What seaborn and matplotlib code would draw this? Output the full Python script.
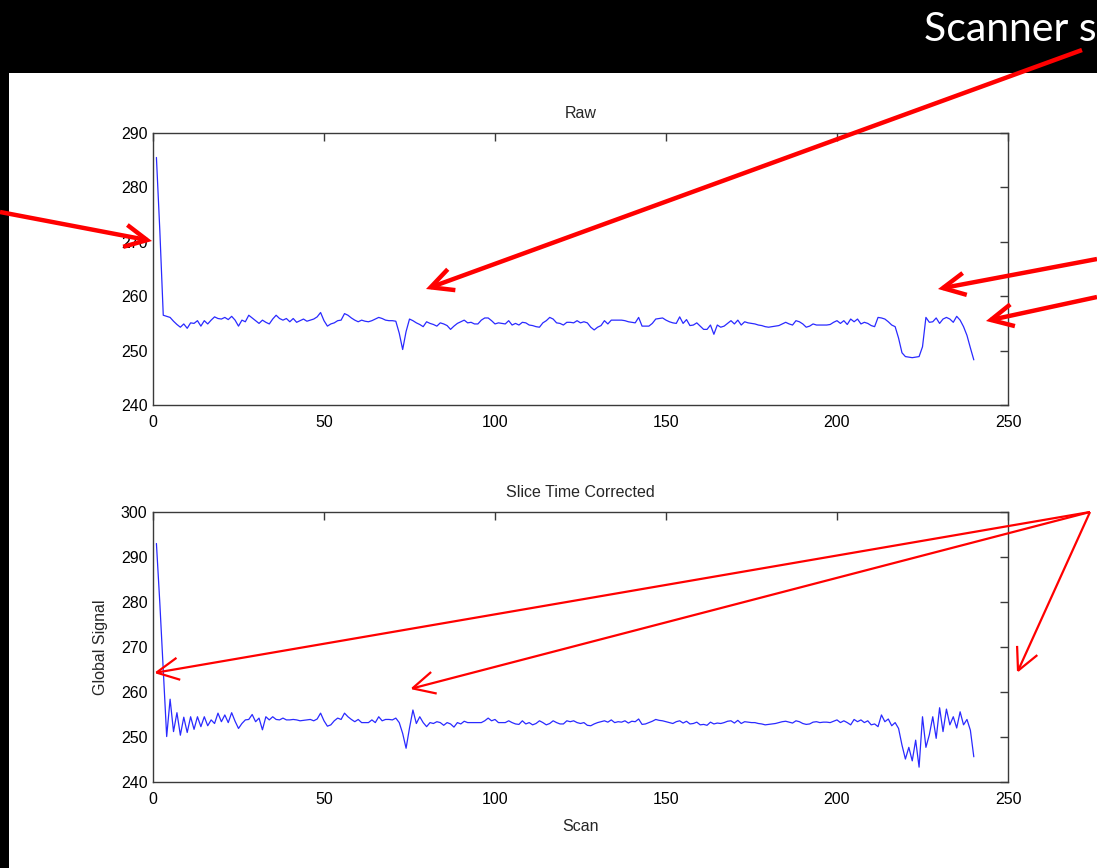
import matplotlib
matplotlib.use("Agg")
import matplotlib.pyplot as plt
import seaborn as sns
from matplotlib.patches import Rectangle, FancyArrowPatch

# global signal per scan
scans = list(range(1, 241))

raw = [
    285.5, 272.0, 256.5, 256.3, 256.1, 255.4, 254.8, 254.3, 254.9, 254.1,
    255.1, 255.0, 255.5, 254.5, 255.5, 254.9, 255.6, 256.2, 255.9, 255.8,
    256.1, 255.7, 256.3, 255.6, 254.5, 255.6, 255.3, 256.5, 256.0, 255.5,
    255.0, 255.6, 255.2, 254.9, 255.8, 256.5, 255.9, 255.6, 255.9, 255.3,
    255.9, 255.2, 255.5, 255.8, 255.4, 255.6, 255.8, 256.2, 257.0, 255.5,
    254.5, 254.9, 255.1, 255.5, 255.6, 256.8, 256.5, 256.0, 255.6, 255.3,
    255.6, 255.4, 255.3, 255.5, 255.8, 256.1, 255.9, 255.6, 255.5, 255.5,
    255.4, 253.2, 250.2, 253.5, 255.8, 255.5, 255.1, 254.8, 254.4, 255.3,
    255.0, 254.8, 254.5, 255.1, 254.9, 254.6, 253.9, 254.5, 255.0, 255.3,
    255.6, 255.1, 255.2, 254.9, 254.9, 255.6, 256.0, 256.0, 255.5, 254.9,
    255.1, 255.0, 254.9, 255.5, 254.7, 255.0, 254.7, 255.2, 255.1, 254.7,
    254.6, 254.4, 254.3, 255.1, 255.5, 256.1, 255.8, 255.1, 255.0, 254.7,
    255.2, 255.2, 255.1, 255.5, 255.1, 255.3, 255.1, 254.3, 253.8, 254.3,
    254.6, 255.5, 254.9, 255.6, 255.6, 255.6, 255.6, 255.5, 255.3, 255.2,
    255.1, 256.1, 254.5, 254.5, 254.5, 255.0, 255.8, 255.9, 256.0, 255.6,
    255.3, 255.1, 255.0, 256.2, 255.0, 255.7, 254.6, 254.7, 255.1, 254.5,
    253.9, 253.9, 254.7, 253.0, 254.7, 254.3, 254.5, 255.0, 255.5, 254.9,
    255.6, 254.7, 255.3, 255.1, 255.0, 254.9, 254.7, 254.6, 254.4, 254.3,
    254.4, 254.5, 254.6, 254.9, 255.2, 254.9, 254.7, 255.5, 255.3, 254.9,
    254.3, 254.5, 254.9, 254.7, 254.7, 254.7, 254.7, 254.8, 255.2, 255.5,
    255.0, 255.5, 254.8, 255.8, 255.3, 255.8, 254.9, 255.2, 255.0, 254.6,
    254.4, 256.1, 256.0, 255.8, 255.3, 254.7, 254.4, 252.3, 249.6, 248.9,
    248.8, 248.7, 248.8, 248.9, 250.7, 256.1, 255.2, 255.3, 256.0, 255.0,
    255.8, 256.1, 255.8, 255.2, 256.3, 255.6, 254.4, 252.8, 250.5, 248.3,
]

corrected = [
    293.0, 279.7, 265.0, 250.1, 258.4, 251.2, 255.4, 250.4, 254.4, 251.0,
    254.5, 251.7, 254.5, 252.3, 254.5, 252.5, 253.8, 253.0, 255.3, 253.4,
    254.9, 253.2, 255.4, 253.5, 251.9, 253.0, 253.8, 253.9, 255.0, 253.4,
    254.2, 251.6, 254.5, 253.8, 254.5, 253.9, 253.8, 254.2, 253.8, 253.8,
    253.9, 253.8, 253.6, 253.7, 253.8, 253.9, 253.6, 254.0, 255.3, 253.6,
    252.4, 252.7, 253.6, 254.2, 253.9, 255.3, 254.5, 253.9, 253.4, 253.9,
    253.2, 253.2, 253.2, 253.8, 253.2, 254.5, 253.6, 253.9, 253.9, 253.8,
    254.2, 253.2, 250.8, 247.5, 252.0, 256.0, 253.0, 254.5, 253.2, 252.3,
    253.2, 253.0, 253.4, 253.2, 252.6, 253.2, 252.9, 252.2, 253.2, 252.9,
    253.5, 253.2, 253.2, 253.2, 253.2, 253.2, 253.6, 254.2, 253.6, 253.9,
    253.2, 253.2, 253.2, 253.6, 253.2, 252.9, 252.8, 253.6, 252.9, 253.2,
    252.7, 253.0, 253.6, 253.2, 252.7, 253.0, 253.6, 253.2, 252.9, 252.9,
    253.6, 253.4, 253.6, 253.2, 253.0, 253.2, 252.6, 252.5, 252.9, 253.2,
    253.4, 253.6, 253.3, 253.8, 253.2, 253.4, 253.3, 253.6, 253.1, 253.5,
    253.4, 254.0, 252.8, 252.9, 253.2, 253.5, 253.9, 253.7, 253.6, 253.4,
    253.2, 253.0, 253.4, 253.6, 253.1, 253.5, 252.9, 253.0, 253.3, 252.7,
    252.8, 252.6, 253.3, 252.9, 253.1, 253.0, 253.2, 253.5, 253.6, 253.1,
    253.7, 253.0, 253.4, 253.3, 253.2, 253.2, 253.0, 252.9, 252.7, 252.8,
    252.9, 253.0, 253.2, 253.4, 253.5, 253.3, 253.1, 253.6, 253.4, 253.0,
    252.8, 252.9, 253.3, 253.4, 253.2, 253.3, 253.3, 253.2, 253.5, 253.8,
    253.2, 253.6, 253.2, 252.7, 253.9, 253.4, 253.8, 253.2, 253.6, 252.7,
    252.9, 252.3, 254.9, 253.4, 254.0, 252.5, 253.2, 251.9, 248.2, 245.1,
    247.7, 244.7, 249.3, 243.3, 254.5, 247.7, 250.5, 254.5, 249.7, 256.5,
    251.2, 256.2, 252.7, 254.5, 252.0, 255.6, 252.7, 253.9, 251.5, 245.6,
]

x_ticks = [0, 50, 100, 150, 200, 250]
raw_yticks = [240, 250, 260, 270, 280, 290]
corr_yticks = [240, 250, 260, 270, 280, 290, 300]

sns.set_style("white")
plt.rcParams['font.family'] = ['Liberation Sans', 'DejaVu Sans']

W, H = 1097, 868
fig = plt.figure(figsize=(W / 100, H / 100), dpi=100, facecolor='black')

# white slide area (black band on top and a thin strip on the left)
fig.patches.append(Rectangle((9 / W, 0), 1, 1 - 73 / H, transform=fig.transFigure,
                             facecolor='white', edgecolor='none', zorder=-1))


def style_axes(ax, yticks):
    ax.set_xlim(0, 250)
    ax.set_ylim(yticks[0], yticks[-1])
    ax.set_xticks(x_ticks)
    ax.set_yticks(yticks)
    for s in ax.spines.values():
        s.set_visible(True)
        s.set_color('#3a3a3a')
        s.set_linewidth(1.0)
    ax.tick_params(direction='in', length=6, width=1, color='#3a3a3a',
                   top=True, right=True, labelsize=11.5, labelcolor='black')
    ax.tick_params(axis='x', pad=7)
    ax.tick_params(axis='y', pad=4)
    ax.grid(False)


ax1 = fig.add_axes([153 / W, 1 - 405 / H, 855 / W, 272 / H])
sns.lineplot(x=scans, y=raw, ax=ax1, color='#2a2aff', linewidth=0.9)
style_axes(ax1, raw_yticks)
ax1.set_title('Raw', fontsize=11.5, pad=10.5)

ax2 = fig.add_axes([153 / W, 1 - 782 / H, 855 / W, 270 / H])
sns.lineplot(x=scans, y=corrected, ax=ax2, color='#2a2aff', linewidth=0.9)
style_axes(ax2, corr_yticks)
ax2.set_title('Slice Time Corrected', fontsize=11.5, pad=10.5)
ax2.set_xlabel('Scan', fontsize=11.5, labelpad=9)
ax2.set_ylabel('Global Signal', fontsize=11.5, labelpad=9)

fig.text(924 / W, 1 - 41 / H, 'Scanner s', color='white', fontsize=29.5,
         family=['Lato', 'DejaVu Sans'], va='baseline', ha='left')


# red call-out arrows, positions in image pixels (top-left origin)
def arrow(start, tip, lw):
    p = FancyArrowPatch((start[0], H - start[1]), (tip[0], H - tip[1]),
                        transform=None, arrowstyle='->,head_length=0.8,head_width=0.4',
                        mutation_scale=20, color='#ff0000', linewidth=lw,
                        shrinkA=0, shrinkB=0, joinstyle='miter', capstyle='butt', zorder=10)
    fig.add_artist(p)


arrow((0, 212), (152, 241), 3.2)
arrow((1082, 50), (426, 289), 3.2)
arrow((1097, 259), (938, 289), 3.2)
arrow((1097, 297), (986, 321), 3.2)
arrow((1090, 512), (154, 673), 1.6)
arrow((1090, 512), (410, 689), 1.6)
arrow((1090, 512), (1017, 673), 1.6)

fig.savefig('out.png', dpi=100, facecolor=fig.get_facecolor())
